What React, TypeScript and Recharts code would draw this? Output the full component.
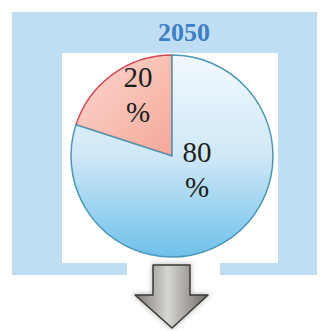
import { Pie, PieChart, Cell } from "recharts";

const categories = ["A", "B"];
const shares = [20, 80];
const labelLines = [
  ["20", "%"],
  ["80", "%"],
];
const title = "2050";

const fills = ["url(#redFill)", "url(#blueFill)"];
const strokes = ["#d44a5a", "#4d98b6"];
const serif = "Liberation Serif, Times New Roman, serif";
// label baseline offsets from pie centre (px)
const labelOffsets = [
  { dx: -34, dy: -69 },
  { dx: 25, dy: 6 },
];

const renderLabel = (props: any) => {
  const { cx, cy, index } = props;
  const off = labelOffsets[index];
  const lines = labelLines[index];
  return (
    <g key={"lbl" + index}>
      {lines.map((t, i) => (
        <text
          key={i}
          x={cx + off.dx}
          y={cy + off.dy + i * 35}
          textAnchor="middle"
          fontFamily={serif}
          fontSize={29}
          fill="#1e1e1e"
        >
          {t}
        </text>
      ))}
    </g>
  );
};

export default function App() {
  const data = categories.map((c, i) => ({ name: c, value: shares[i] }));
  return (
    <div style={{ position: "absolute", left: 0, top: 0, width: 324, height: 331, background: "#fff" }}>
      {/* blue panel */}
      <div style={{ position: "absolute", left: 12, top: 12, width: 305, height: 263, background: "#c0def3" }} />
      <div style={{ position: "absolute", left: 62, top: 53, width: 216, height: 210, background: "#fff" }} />
      <div style={{ position: "absolute", left: 127, top: 262, width: 93, height: 14, background: "#fff" }} />
      <div
        style={{
          position: "absolute",
          left: 184,
          top: 19,
          transform: "translateX(-50%)",
          fontFamily: serif,
          fontWeight: "bold",
          fontSize: 26,
          lineHeight: "28px",
          color: "#3f7fc4",
        }}
      >
        {title}
      </div>
      <div style={{ position: "absolute", left: 0, top: 0 }}>
        <PieChart width={324} height={331} margin={{ top: 0, right: 0, bottom: 0, left: 0 }}>
          <defs>
            <linearGradient id="blueFill" x1="0" y1="0" x2="0" y2="1">
              <stop offset="0%" stopColor="#f2f9fd" />
              <stop offset="50%" stopColor="#cfe8f7" />
              <stop offset="100%" stopColor="#6fc0ea" />
            </linearGradient>
            <linearGradient id="redFill" x1="0" y1="0" x2="1" y2="1">
              <stop offset="0%" stopColor="#fbd8d0" />
              <stop offset="100%" stopColor="#f5a898" />
            </linearGradient>
          </defs>
          <Pie
            data={data}
            dataKey="value"
            cx={172}
            cy={156}
            outerRadius={101}
            startAngle={90}
            endAngle={450}
            label={renderLabel}
            labelLine={false}
            isAnimationActive={false}
          >
            {data.map((d, i) => (
              <Cell key={d.name} fill={fills[i]} stroke={strokes[i]} strokeWidth={1.5} />
            ))}
          </Pie>
        </PieChart>
      </div>
      {/* down arrow */}
      <svg style={{ position: "absolute", left: 0, top: 0 }} width={324} height={331}>
        <defs>
          <linearGradient id="arrowFill" x1="0" y1="0" x2="1" y2="0">
            <stop offset="0%" stopColor="#7a7670" />
            <stop offset="45%" stopColor="#d8d6d2" />
            <stop offset="100%" stopColor="#6e6a64" />
          </linearGradient>
          <filter id="glow" x="-20%" y="-20%" width="140%" height="140%">
            <feGaussianBlur stdDeviation="2.5" />
          </filter>
        </defs>
        <polygon
          points="153,265 190,265 190,295 208,295 172,328 135,295 153,295"
          fill="#999"
          stroke="#999"
          strokeWidth={3}
          opacity={0.6}
          filter="url(#glow)"
        />
        <polygon
          points="153,265 190,265 190,295 208,295 172,328 135,295 153,295"
          fill="url(#arrowFill)"
          stroke="#3d3a36"
          strokeWidth={1.5}
          strokeLinejoin="round"
        />
      </svg>
    </div>
  );
}
